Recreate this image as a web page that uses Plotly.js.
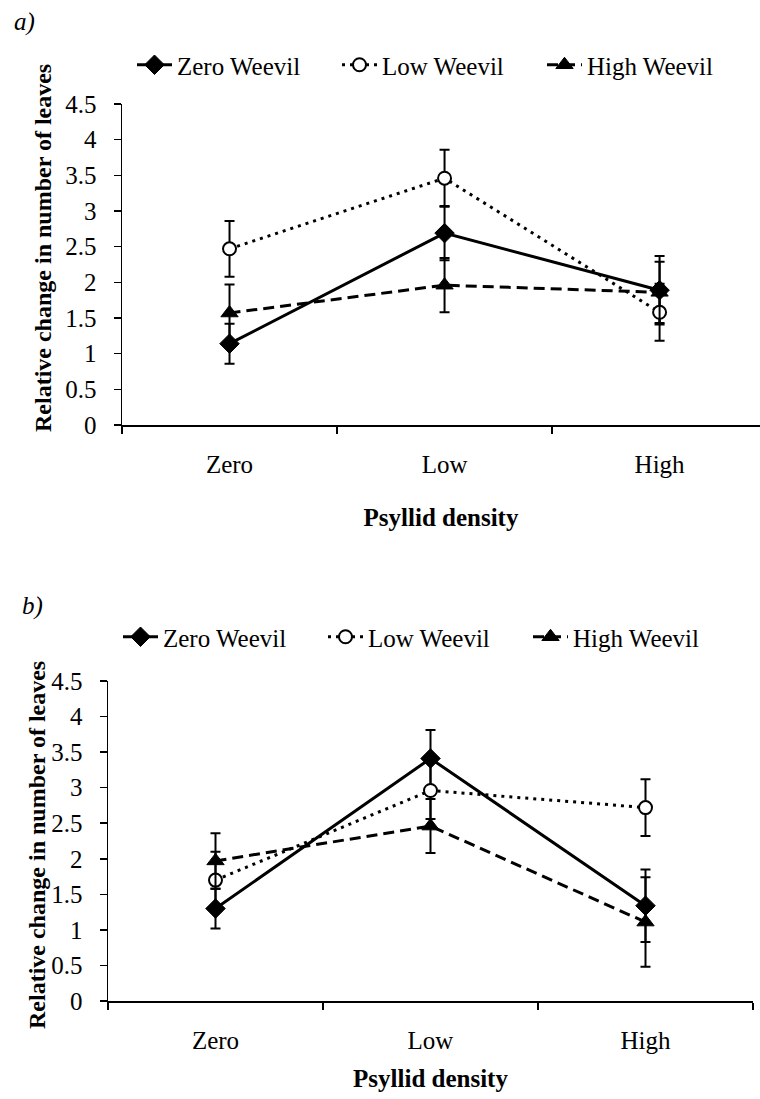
<!DOCTYPE html>
<html>
<head>
<meta charset="utf-8">
<script src="https://cdn.plot.ly/plotly-3.0.1.min.js"></script>
<style>html,body{margin:0;padding:0;background:#fff;}#chart{width:760px;height:1099px;}</style>
</head>
<body>
<div id="chart"></div>
<script>
// ---- data ----
const categories = ['Zero', 'Low', 'High'];
const seriesNames = ['Zero Weevil', 'Low Weevil', 'High Weevil'];
const yTicks = [0, 0.5, 1, 1.5, 2, 2.5, 3, 3.5, 4, 4.5];

// panel a)
const aZeroWeevil = [1.14, 2.69, 1.89];
const aZeroWeevilErr = [0.28, 0.38, 0.48];
const aLowWeevil = [2.47, 3.46, 1.58];
const aLowWeevilErr = [0.39, 0.40, 0.40];
const aHighWeevil = [1.57, 1.96, 1.86];
const aHighWeevilErr = [0.40, 0.38, 0.43];

// panel b)
const bZeroWeevil = [1.30, 3.41, 1.34];
const bZeroWeevilErr = [0.28, 0.40, 0.51];
const bLowWeevil = [1.70, 2.96, 2.72];
const bLowWeevilErr = [0.40, 0.40, 0.40];
const bHighWeevil = [1.97, 2.46, 1.11];
const bHighWeevilErr = [0.39, 0.38, 0.63];

const FONT = "'Liberation Serif', 'Times New Roman', Times, serif";

const styles = [
  {line: {color: '#000', width: 3, dash: 'solid'}, marker: {symbol: 'diamond', size: 15, color: '#000', line: {color: '#000', width: 1}}},
  {line: {color: '#000', width: 3, dash: '3px,5px'}, marker: {symbol: 'circle', size: 13, color: '#fff', line: {color: '#000', width: 2}}},
  {line: {color: '#000', width: 3, dash: '11px,6px'}, marker: {symbol: 'triangle-up', size: 15, color: '#000', line: {color: '#000', width: 1}}}
];

function mk(vals, errs, idx, xa, ya, legend) {
  return {
    x: categories, y: vals, type: 'scatter', mode: 'lines+markers',
    name: seriesNames[idx], xaxis: xa, yaxis: ya, legend: legend, showlegend: true,
    line: styles[idx].line, marker: styles[idx].marker,
    error_y: {type: 'data', array: errs, visible: true, color: '#000', thickness: 2, width: 5}
  };
}

const data = [
  mk(aZeroWeevil, aZeroWeevilErr, 0, 'x', 'y', 'legend'),
  mk(aLowWeevil, aLowWeevilErr, 1, 'x', 'y', 'legend'),
  mk(aHighWeevil, aHighWeevilErr, 2, 'x', 'y', 'legend'),
  mk(bZeroWeevil, bZeroWeevilErr, 0, 'x2', 'y2', 'legend2'),
  mk(bLowWeevil, bLowWeevilErr, 1, 'x2', 'y2', 'legend2'),
  mk(bHighWeevil, bHighWeevilErr, 2, 'x2', 'y2', 'legend2')
];

const W = 760, H = 1099;
const px = v => v / W;
const py = v => 1 - v / H;

function xAxis(domain, range, standoffTitle) {
  return {
    domain: domain, range: range, type: 'category', tickson: 'boundaries',
    showline: true, linecolor: '#000', linewidth: 1.5,
    ticks: 'outside', ticklen: 7, tickcolor: '#000', tickwidth: 1.5,
    showgrid: false, zeroline: false,
    tickfont: {family: FONT, size: 25, color: '#000'},
    ticklabelstandoff: 16,
    title: {text: '<b>Psyllid density</b>', font: {family: FONT, size: 25, color: '#000'}, standoff: standoffTitle}
  };
}
function yAxis(domain) {
  return {
    domain: domain, range: [0, 4.5], tickvals: yTicks, ticktext: yTicks.map(String),
    showline: true, linecolor: '#000', linewidth: 1.5,
    ticks: 'outside', ticklen: 7, tickcolor: '#000', tickwidth: 1.5,
    showgrid: false, zeroline: false,
    tickfont: {family: FONT, size: 25, color: '#000'},
    ticklabelstandoff: 12
  };
}

function legendCfg(xl, yc) {
  return {orientation: 'h', x: xl, xanchor: 'left', y: yc, yanchor: 'middle',
          itemwidth: 35, entrywidth: 155, entrywidthmode: 'pixels',
          font: {family: FONT, size: 25, color: '#000'}, bgcolor: 'rgba(0,0,0,0)'};
}

const layout = {
  width: W, height: H, margin: {l: 0, r: 0, t: 0, b: 0},
  paper_bgcolor: '#fff', plot_bgcolor: '#fff',
  font: {family: FONT, color: '#000'},
  xaxis: xAxis([px(122), 1], [-0.5, 2.467], 32),
  yaxis: yAxis([py(425), py(104)]),
  xaxis2: Object.assign(xAxis([px(108), px(753)], [-0.5, 2.5], 17), {anchor: 'y2'}),
  yaxis2: Object.assign(yAxis([py(1001), py(681)]), {anchor: 'x2'}),
  legend: legendCfg(px(132), py(65)),
  legend2: legendCfg(px(118), py(637)),
  annotations: [
    {text: '<i>a)</i>', x: px(12), y: py(22), xref: 'paper', yref: 'paper', xanchor: 'left', yanchor: 'middle', showarrow: false, font: {family: FONT, size: 25, color: '#000'}},
    {text: '<i>b)</i>', x: px(20), y: py(606), xref: 'paper', yref: 'paper', xanchor: 'left', yanchor: 'middle', showarrow: false, font: {family: FONT, size: 25, color: '#000'}},
    {text: '<b>Relative change in number of leaves</b>', textangle: -90, x: px(43), y: py(248), xref: 'paper', yref: 'paper', xanchor: 'center', yanchor: 'middle', showarrow: false, font: {family: FONT, size: 24, color: '#000'}},
    {text: '<b>Relative change in number of leaves</b>', textangle: -90, x: px(37), y: py(845), xref: 'paper', yref: 'paper', xanchor: 'center', yanchor: 'middle', showarrow: false, font: {family: FONT, size: 24, color: '#000'}}
  ]
};

Plotly.newPlot('chart', data, layout, {displayModeBar: false, staticPlot: true});
</script>
</body>
</html>
